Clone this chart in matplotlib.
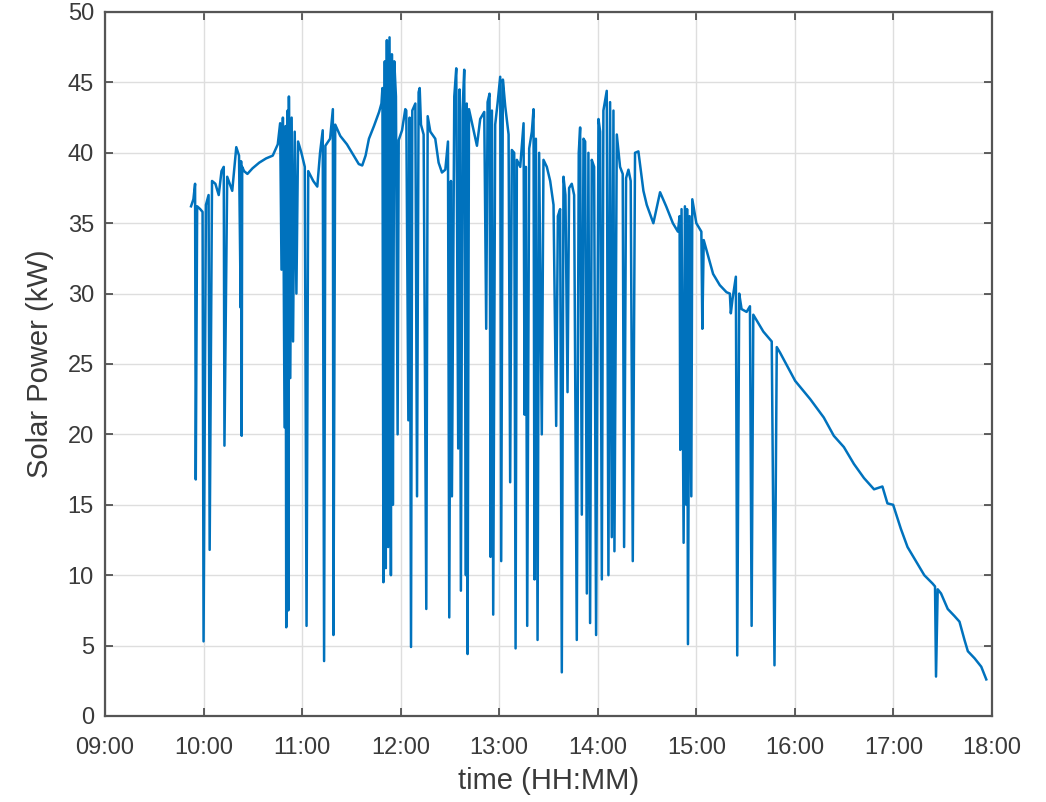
import matplotlib
matplotlib.use("Agg")
from matplotlib import pyplot as plt

# solar power readings (time in hours, power in kW)
hours = [
    9.873, 9.897, 9.914, 9.921, 9.935, 9.966, 9.990, 10.000, 10.024, 10.051,
    10.062, 10.086, 10.120, 10.154, 10.182, 10.205, 10.212, 10.240, 10.291, 10.308,
    10.332, 10.360, 10.377, 10.381, 10.387, 10.392, 10.411, 10.445, 10.497, 10.565,
    10.634, 10.702, 10.753, 10.777, 10.791, 10.805, 10.822, 10.832, 10.839, 10.853,
    10.860, 10.866, 10.880, 10.894, 10.908, 10.925, 10.942, 10.959, 10.993, 11.027,
    11.045, 11.062, 11.113, 11.154, 11.182, 11.209, 11.223, 11.236, 11.284, 11.312,
    11.318, 11.336, 11.387, 11.455, 11.524, 11.575, 11.610, 11.644, 11.678, 11.729,
    11.781, 11.805, 11.815, 11.825, 11.839, 11.849, 11.860, 11.873, 11.887, 11.901,
    11.911, 11.921, 11.935, 11.952, 11.969, 11.980, 12.014, 12.047, 12.057, 12.078,
    12.091, 12.105, 12.118, 12.149, 12.166, 12.182, 12.193, 12.206, 12.233, 12.260,
    12.274, 12.301, 12.351, 12.385, 12.419, 12.453, 12.480, 12.493, 12.510, 12.520,
    12.544, 12.564, 12.584, 12.598, 12.611, 12.628, 12.645, 12.662, 12.670, 12.679,
    12.693, 12.740, 12.774, 12.807, 12.848, 12.868, 12.882, 12.902, 12.912, 12.926,
    12.939, 12.959, 12.983, 13.010, 13.020, 13.037, 13.061, 13.095, 13.111, 13.128,
    13.152, 13.166, 13.179, 13.213, 13.247, 13.257, 13.270, 13.284, 13.304, 13.331,
    13.348, 13.358, 13.372, 13.389, 13.405, 13.432, 13.449, 13.483, 13.517, 13.551,
    13.578, 13.595, 13.618, 13.635, 13.652, 13.672, 13.693, 13.709, 13.736, 13.760,
    13.787, 13.807, 13.821, 13.838, 13.855, 13.872, 13.889, 13.905, 13.922, 13.939,
    13.963, 13.983, 14.007, 14.024, 14.041, 14.057, 14.091, 14.108, 14.125, 14.142,
    14.159, 14.169, 14.193, 14.226, 14.253, 14.267, 14.287, 14.311, 14.334, 14.355,
    14.378, 14.412, 14.463, 14.497, 14.564, 14.632, 14.694, 14.762, 14.813, 14.830,
    14.837, 14.850, 14.871, 14.884, 14.898, 14.906, 14.915, 14.932, 14.949, 14.959,
    15.000, 15.051, 15.061, 15.075, 15.119, 15.170, 15.238, 15.306, 15.340, 15.350,
    15.367, 15.401, 15.415, 15.435, 15.459, 15.510, 15.544, 15.561, 15.578, 15.612,
    15.680, 15.765, 15.793, 15.816, 15.850, 16.003, 16.156, 16.293, 16.395, 16.497,
    16.599, 16.701, 16.803, 16.888, 16.939, 16.997, 17.075, 17.143, 17.211, 17.313,
    17.398, 17.422, 17.432, 17.449, 17.483, 17.551, 17.619, 17.670, 17.721, 17.755,
    17.823, 17.891, 17.942,
]
power_kw = [
    36.2, 36.7, 37.8, 16.8, 36.2, 36.0, 35.8, 5.3, 36.3, 37.0,
    11.8, 38.0, 37.8, 37.0, 38.7, 39.0, 19.2, 38.3, 37.3, 38.6,
    40.4, 39.8, 29.0, 39.4, 19.9, 39.0, 38.7, 38.5, 38.9, 39.3,
    39.6, 39.8, 40.6, 42.1, 31.7, 42.5, 20.5, 41.9, 6.3, 43.0,
    7.5, 44.0, 24.0, 42.5, 26.6, 41.5, 30.0, 40.8, 40.0, 39.0,
    6.4, 38.7, 38.0, 37.6, 40.0, 41.6, 3.9, 40.5, 41.0, 43.1,
    5.75, 42.0, 41.2, 40.6, 39.8, 39.2, 39.1, 39.8, 41.0, 41.9,
    42.9, 43.5, 44.6, 9.5, 46.5, 10.5, 48.0, 12.0, 48.2, 10.0,
    47.0, 15.0, 46.5, 44.0, 20.0, 40.9, 41.6, 43.1, 43.0, 21.0,
    42.5, 4.9, 43.0, 43.5, 15.6, 44.3, 44.6, 42.0, 41.3, 7.6,
    42.6, 41.5, 41.0, 39.3, 38.6, 38.8, 40.8, 7.0, 38.0, 15.6,
    44.0, 46.0, 19.0, 44.5, 8.9, 43.0, 45.9, 10.0, 43.5, 4.4,
    43.1, 41.6, 40.5, 42.4, 42.9, 27.5, 43.6, 44.2, 11.3, 43.0,
    7.2, 42.0, 43.5, 45.4, 11.0, 45.2, 43.3, 41.3, 16.6, 40.2,
    40.0, 4.8, 39.5, 39.0, 42.1, 21.4, 39.0, 6.4, 40.3, 41.5,
    43.1, 9.7, 41.0, 5.4, 40.0, 20.0, 39.5, 39.0, 38.0, 36.3,
    20.6, 35.5, 36.0, 3.1, 38.3, 37.0, 23.0, 37.5, 37.8, 37.0,
    5.4, 40.0, 41.8, 14.3, 41.0, 40.8, 8.7, 40.0, 6.6, 39.5,
    39.0, 5.75, 42.4, 41.5, 9.7, 43.0, 44.4, 10.0, 43.6, 12.7,
    43.0, 11.7, 41.3, 39.0, 38.5, 12.0, 38.2, 38.8, 38.0, 11.0,
    40.0, 40.1, 37.3, 36.3, 35.0, 37.2, 36.2, 35.0, 34.4, 35.5,
    18.9, 36.0, 12.3, 36.2, 15.0, 36.0, 5.1, 35.5, 15.6, 36.7,
    35.0, 34.4, 27.5, 33.8, 32.7, 31.4, 30.6, 30.1, 30.0, 28.6,
    29.6, 31.2, 4.3, 30.0, 28.9, 28.7, 29.1, 6.4, 28.5, 28.1,
    27.3, 26.6, 3.6, 26.2, 25.8, 23.8, 22.5, 21.2, 19.9, 19.1,
    17.9, 16.9, 16.1, 16.3, 15.1, 15.0, 13.3, 12.0, 11.2, 10.0,
    9.4, 9.2, 2.8, 9.0, 8.7, 7.6, 7.1, 6.7, 5.4, 4.6,
    4.1, 3.5, 2.6,
]

tick_hours = list(range(9, 19))
tick_labels = ["%02d:00" % h for h in tick_hours]
y_ticks = list(range(0, 55, 5))

plt.rcParams['font.family'] = ['Liberation Sans', 'DejaVu Sans']

fig = plt.figure(figsize=(10.46, 8.02), dpi=100)
ax = fig.add_axes([105/1046, 86/802, 887/1046, 704/802])

ax.plot(hours, power_kw, color='#0072BD', linewidth=1.8)

ax.set_xlim(9, 18)
ax.set_ylim(0, 50)
ax.set_xticks(tick_hours)
ax.set_xticklabels(tick_labels)
ax.set_yticks(y_ticks)
ax.grid(True, color='#dedede', linewidth=1.0)
ax.set_axisbelow(True)

ax.tick_params(direction='in', top=True, right=True, length=6, width=1.2,
               colors='#444444', labelsize=17, labelcolor='#3a3a3a')
ax.tick_params(axis='x', pad=15)
ax.tick_params(axis='y', pad=8)
for s in ax.spines.values():
    s.set_color('#555555')
    s.set_linewidth(1.6)

ax.set_xlabel('time (HH:MM)', fontsize=21, color='#3a3a3a', labelpad=6)
ax.set_ylabel('Solar Power (kW)', fontsize=21, color='#3a3a3a', labelpad=10)

fig.savefig('out.png', dpi=100)
